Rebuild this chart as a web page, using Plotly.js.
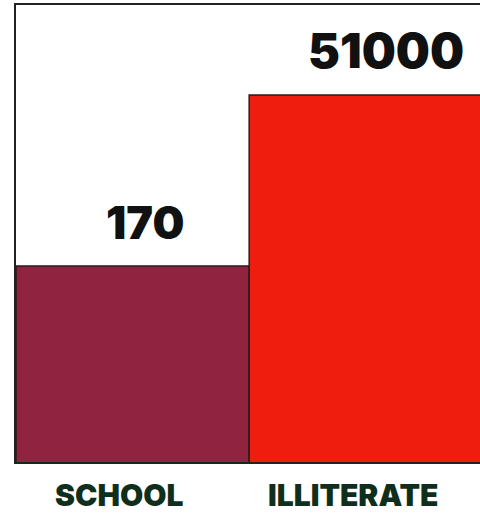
<!DOCTYPE html>
<html>
<head>
<meta charset="utf-8">
<script src="https://cdn.plot.ly/plotly-3.0.1.min.js"></script>
<style>html,body{margin:0;padding:0;background:#fff;}#chart{width:480px;height:513px;}</style>
</head>
<body>
<div id="chart"></div>
<script>
const categories = ["SCHOOL", "ILLITERATE"];
const values = [170, 51000];
const valueLabels = ["170", "51000"];
const barColors = ["#8f2340", "#ef1d0d"];

const trace = {
  type: "bar",
  x: [0, 1],
  y: values,
  width: 1,
  marker: { color: barColors, line: { color: "#2a1a1a", width: 1.5 } },
  hoverinfo: "skip"
};

const valShift = [[12, 43], [20, 45]];
const catShift = [-14, -13];
const annotations = [];
values.forEach((v, i) => {
  annotations.push({
    x: i, y: Math.log10(v), xref: "x", yref: "y",
    text: valueLabels[i], showarrow: false,
    xanchor: "center", yanchor: "middle",
    xshift: valShift[i][0], yshift: valShift[i][1],
    font: { family: "Inter, Liberation Sans, Arial, sans-serif", size: i === 0 ? 45 : 48, color: "#111111", weight: 900 }
  });
  annotations.push({
    x: i, y: 0, xref: "x", yref: "paper",
    text: categories[i], showarrow: false, borderpad: 0,
    xanchor: "center", yanchor: "middle",
    xshift: catShift[i], yshift: -33,
    font: { family: "Inter, DejaVu Sans, sans-serif", size: 30, color: "#0f2e1c", weight: 900 }
  });
});

const layout = {
  width: 480, height: 513,
  margin: { l: 16, r: 0, t: 5, b: 51 },
  paper_bgcolor: "#ffffff", plot_bgcolor: "#ffffff",
  showlegend: false,
  bargap: 0,
  xaxis: {
    range: [-0.5, 1.49], showticklabels: false, ticks: "",
    showgrid: false, zeroline: false,
    showline: true, linecolor: "#222222", linewidth: 2, mirror: true
  },
  yaxis: {
    type: "log", range: [-0.611, 6.012],
    showticklabels: false, ticks: "", showgrid: false, zeroline: false,
    showline: true, linecolor: "#222222", linewidth: 2
  },
  annotations: annotations
};

Plotly.newPlot("chart", [trace], layout, { staticPlot: true, displayModeBar: false });
</script>
</body>
</html>
